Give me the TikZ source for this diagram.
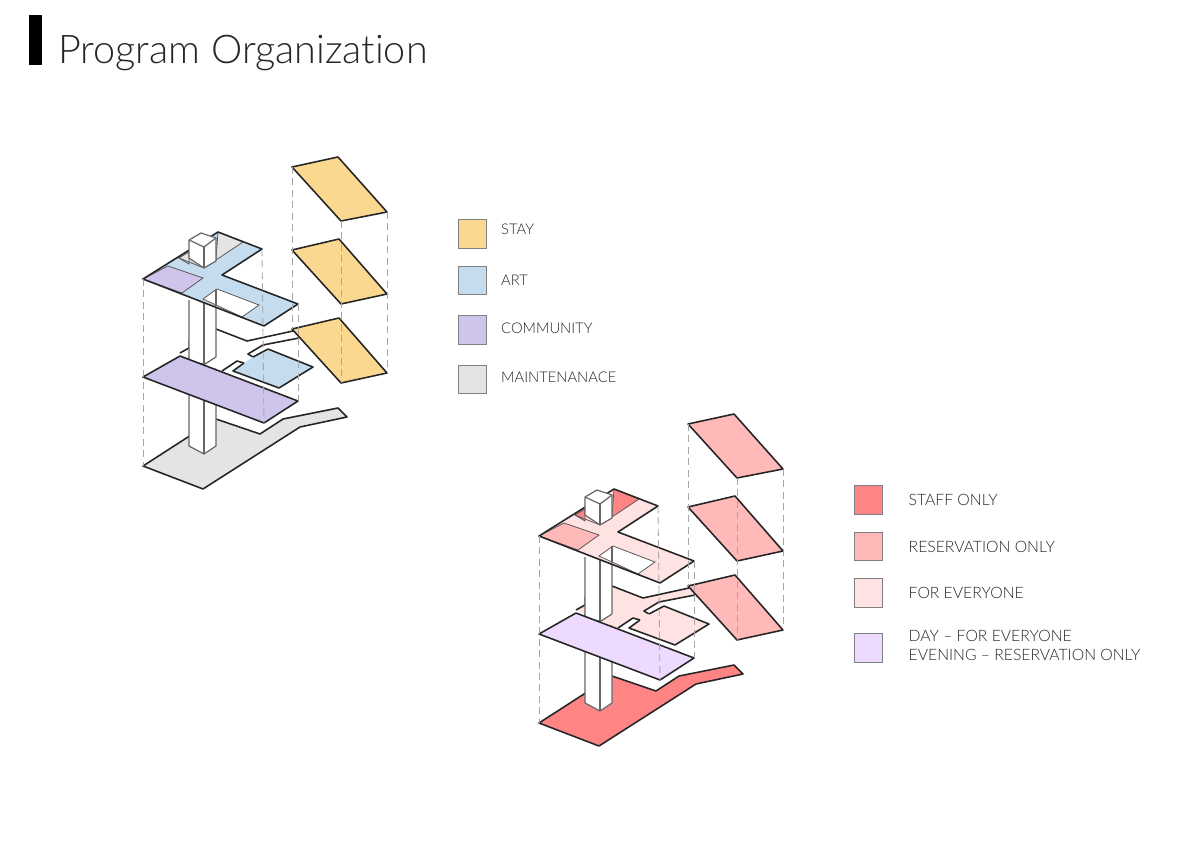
\documentclass[tikz,border=0pt]{standalone}
\usepackage{fontspec}
\setmainfont[Ligatures=NoCommon]{Lato Light}
\usetikzlibrary{positioning}
\definecolor{staycol}{HTML}{FBD88F}
\definecolor{artcol}{HTML}{C5DCEE}
\definecolor{comcol}{HTML}{CFC5EC}
\definecolor{maincol}{HTML}{E4E4E4}
\definecolor{staffcol}{HTML}{FF8585}
\definecolor{rescol}{HTML}{FFB9B9}
\definecolor{allcol}{HTML}{FFE2E2}
\definecolor{daycol}{HTML}{EED9FF}
\tikzset{
	plate/.style={draw=black!85, line width=.9pt, line join=round},
	thin plate/.style={draw=black!65, line width=.45pt},
	core/.style={draw=black!60, line width=.7pt, fill=white, line join=round},
	guide/.style={draw=black!35, line width=.5pt, dash pattern=on 4pt off 2.5pt},
	swatch/.style={draw=black!50, line width=.7pt, minimum size=.57cm, inner sep=0pt},
	tag/.style={font=\fontsize{8.4}{10.8}\selectfont, text=black!85, align=left, inner sep=0pt, right=.27cm of #1},
	wide tag/.style={font=\fontsize{8.95}{10.8}\selectfont, text=black!85, align=left, inner sep=0pt, right=.5cm of #1},
}
% #1 stay, #2 art, #3 left room, #4 corner, #5 middle plate, #6 small room, #7 long plate, #8 ground
\newcommand{\programblock}[8]{
	%ground
	\draw[plate, fill=#8] (143,466)--(188,437)--(216,419)--(260,434)--(283,419)--(338,408)--(347,417)--(300,427)--(203,489)--cycle;
	%core lower part
	\draw[core] (189,340)--(189,446)--(204,454)--(216,446)--(216,340);
	\draw[core] (204,340)--(204,454);
	%middle plate
	\fill[#5] (216,329)--(247,341)--(293,331)--(299,338)--(263,345)--(248,354)--(253,357)--(244,363)--(237,361)--(222,371)--(200,362)--(180,353)--(189,348)--(216,340)--cycle;
	\draw[plate] (216,329)--(247,341)--(293,331);
	\draw[plate] (299,338)--(263,345)--(248,354)--(253,357);
	\draw[plate] (244,363)--(237,361)--(222,371);
	\draw[plate] (189,348)--(180,353);
	\draw[core] (189,300)--(189,362)--(205,364)--(216,357)--(216,300);
	\draw[core] (204,300)--(204,364);
	%small room
	\fill[#6] (253,357)--(268,349)--(313,367)--(279,388)--(233,371)--(244,363)--cycle;
	\draw[plate] (253,357)--(268,349)--(313,367)--(279,388)--(233,371)--(244,363);
	%long plate
	\draw[plate, fill=#7] (180,356)--(298,401)--(264,423)--(143,377)--cycle;
	%top plate
	\fill[#2] (143,279)--(218,232)--(262,249)--(222,275)--(298,304)--(264,326)--cycle;
	\draw[thin plate, fill=#4] (218,232)--(243,242)--(216,260)--cycle;
	\draw[thin plate, fill=#4] (189,252)--(179,258)--(189,264)--cycle;
	\draw[thin plate] (179,258)--(204,268);
	\draw[thin plate, fill=#3] (143,279)--(168,266)--(203,278)--(182,293)--cycle;
	\draw[thin plate, fill=white] (217,289)--(259,305)--(242,317)--(203,299)--cycle;
	\draw[plate] (143,279)--(218,232)--(262,249)--(222,275)--(298,304)--(264,326)--cycle;
	\draw[core] (216,289)--(216,306);
	%box on top
	\draw[core] (189,240)--(189,258)--(204,268)--(216,261)--(216,238)--(201,233)--cycle;
	\draw[core] (189,240)--(204,247)--(216,238);
	\draw[core] (204,247)--(204,268);
	%stay plates
	\draw[plate, fill=#1] (292,167)--(338,157)--(387,212)--(341,221)--cycle;
	\draw[plate, fill=#1] (292,250)--(339,239)--(387,294)--(341,304)--cycle;
	\draw[plate, fill=#1] (292,329)--(339,318)--(387,373)--(341,383)--cycle;
	%guides
	\draw[guide] (143,279)--(143,466);
	\draw[guide] (262,249)--(264,423);
	\draw[guide] (298,304)--(298,401);
	\draw[guide] (292,167)--(292,329);
	\draw[guide] (341,221)--(341,383);
	\draw[guide] (387,212)--(387,373);
}
\begin{document}
\begin{tikzpicture}[x=.02cm, y=-.02cm]
	\useasboundingbox (0,0) rectangle (1191,842);
	%title
	\fill[black] (29,15) rectangle (42,65);
	\node[anchor=base west, inner sep=0pt, font=\fontsize{22.5}{28}\selectfont, text=black!85] (title) at (58,63) {Program Organization};
	%first block
	\programblock{staycol}{artcol}{comcol}{maincol}{white}{artcol}{comcol}{maincol}
	%second block
	\begin{scope}[shift={(396,257)}]
		\programblock{rescol}{allcol}{rescol}{staffcol}{allcol}{allcol}{daycol}{staffcol}
	\end{scope}
	%first legend
	\node[swatch, fill=staycol] (stay) at (472.5,234) {};
	\node[tag=stay, yshift=.1cm] (staytxt) {STAY};
	\node[swatch, fill=artcol] (art) at (472.5,280.5) {};
	\node[tag=art] (arttxt) {ART};
	\node[swatch, fill=comcol] (com) at (472.5,330) {};
	\node[tag=com, yshift=.04cm] (comtxt) {COMMUNITY};
	\node[swatch, fill=maincol] (main) at (472.5,379.5) {};
	\node[tag=main, yshift=.05cm] (maintxt) {MAINTENANACE};
	%second legend
	\node[swatch, fill=staffcol] (staff) at (868.5,500) {};
	\node[wide tag=staff] (stafftxt) {STAFF ONLY};
	\node[swatch, fill=rescol] (res) at (868.5,546.5) {};
	\node[wide tag=res] (restxt) {RESERVATION ONLY};
	\node[swatch, fill=allcol] (all) at (868.5,593) {};
	\node[wide tag=all] (alltxt) {FOR EVERYONE};
	\node[swatch, fill=daycol] (day) at (868.5,648) {};
	\node[wide tag=day, yshift=.06cm] (daytxt) {DAY -- FOR EVERYONE\\EVENING -- RESERVATION ONLY};
\end{tikzpicture}
\end{document}
